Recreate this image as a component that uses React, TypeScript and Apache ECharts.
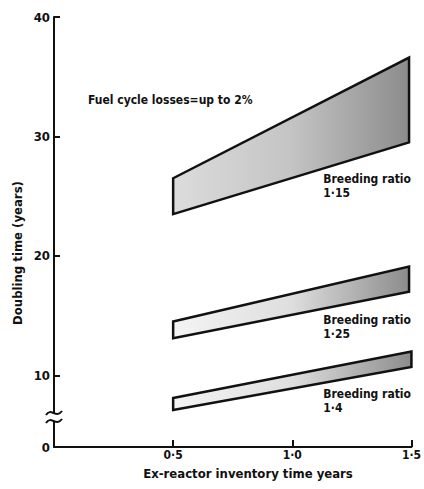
import React, { useEffect, useRef } from "react";
import * as echarts from "echarts";

// Band corners: x range and doubling-time values at start/end
const bandStartX = [0.5, 0.5, 0.5];
const bandEndX = [1.49, 1.49, 1.5];
const topStart = [26.5, 14.5, 8.1];
const bottomStart = [23.5, 13.1, 7.1];
const topEnd = [36.6, 19.1, 12.0];
const bottomEnd = [29.5, 17.0, 10.7];
const breedingRatios = ["1·15", "1·25", "1·4"];

const yTickValues = [4, 10, 20, 30, 40];
const yTickLabels = ["0", "10", "20", "30", "40"];
const xTickValues = [0.5, 1.0, 1.5];
const xTickLabels = ["0·5", "1·0", "1·5"];

const FONT = "'Liberation Sans Narrow', 'DejaVu Sans Condensed', 'Roboto', sans-serif";

export default function App() {
  const ref = useRef<HTMLDivElement>(null);
  useEffect(() => {
    if (!ref.current) return;
    const chart = echarts.init(ref.current, null, { renderer: "svg" });
    const data = bandStartX.map((x0, i) => [
      x0,
      bandEndX[i],
      topStart[i],
      bottomStart[i],
      topEnd[i],
      bottomEnd[i],
      i,
    ]);
    const labelX = 1.13;
    chart.setOption({
      animation: false,
      backgroundColor: "#ffffff",
      grid: { left: 54, right: 11, top: 17, bottom: 42, containLabel: false },
      xAxis: {
        type: "value",
        min: 0,
        max: 1.5,
        axisLine: { show: true, onZero: false, lineStyle: { color: "#111", width: 2 } },
        axisTick: { show: true, inside: true, length: 7, customValues: xTickValues, lineStyle: { color: "#111", width: 2 } },
        axisLabel: {
          show: true,
          customValues: xTickValues,
          margin: 2,
          color: "#111",
          fontFamily: FONT,
          fontWeight: "bold",
          fontSize: 12,
          formatter: (v: number) => {
            const idx = xTickValues.findIndex((t) => Math.abs(t - v) < 1e-6);
            return idx >= 0 ? xTickLabels[idx] : "";
          },
        },
        splitLine: { show: false },
      },
      yAxis: {
        type: "value",
        min: 4,
        max: 40,
        axisLine: { show: true, onZero: false, lineStyle: { color: "#111", width: 2 } },
        axisTick: { show: true, inside: true, length: 6, customValues: [10, 20, 30, 40], lineStyle: { color: "#111", width: 2 } },
        axisLabel: {
          show: true,
          customValues: yTickValues,
          margin: 4,
          color: "#111",
          fontFamily: FONT,
          fontWeight: "bold",
          fontSize: 13,
          formatter: (v: number) => {
            const idx = yTickValues.findIndex((t) => Math.abs(t - v) < 1e-6);
            return idx >= 0 ? yTickLabels[idx] : "";
          },
        },
        splitLine: { show: false },
      },
      series: [
        {
          type: "custom",
          data,
          encode: { x: [0, 1], y: [2, 3, 4, 5] },
          renderItem: (params: any, api: any) => {
            const x0 = api.value(0);
            const x1 = api.value(1);
            const t0 = api.value(2);
            const b0 = api.value(3);
            const t1 = api.value(4);
            const b1 = api.value(5);
            const idx = api.value(6);
            const p1 = api.coord([x0, t0]);
            const p2 = api.coord([x1, t1]);
            const p3 = api.coord([x1, b1]);
            const p4 = api.coord([x0, b0]);
            const by = b0 + ((b1 - b0) * (labelX - x0)) / (x1 - x0);
            const lp = api.coord([labelX, by]);
            return {
              type: "group",
              children: [
                {
                  type: "polygon",
                  shape: { points: [p1, p2, p3, p4] },
                  style: {
                    fill: new echarts.graphic.LinearGradient(0, 0, 1, 0, [
                      { offset: 0, color: idx === 0 ? "#dcdcdc" : "#f4f4f4" },
                      { offset: 0.5, color: idx === 0 ? "#c4c4c4" : "#dedede" },
                      { offset: 1, color: "#8c8c8c" },
                    ]),
                    stroke: "#111",
                    lineWidth: 2.5,
                    lineJoin: "miter",
                  },
                },
                {
                  type: "text",
                  x: lp[0],
                  y: lp[1] + 4,
                  style: {
                    text: "Breeding ratio\n" + breedingRatios[idx],
                    fill: "#111",
                    font: "bold 12px " + FONT,
                    align: "left",
                    verticalAlign: "top",
                    lineHeight: 14,
                  },
                },
              ],
            };
          },
        },
      ],
      graphic: [
        {
          type: "text",
          x: 88,
          y: 100,
          z: 100,
          style: {
            text: "Fuel cycle losses=up to 2%",
            fill: "#111",
            font: "bold 12px " + FONT,
            align: "left",
            verticalAlign: "middle",
          },
        },
        {
          type: "text",
          x: 248,
          y: 473,
          z: 100,
          style: {
            text: "Ex-reactor inventory time years",
            fill: "#111",
            font: "bold 13px " + FONT,
            align: "center",
            verticalAlign: "middle",
          },
        },
        {
          type: "text",
          x: 17,
          y: 253,
          rotation: Math.PI / 2,
          z: 100,
          style: {
            text: "Doubling time (years)",
            fill: "#111",
            font: "bold 13px " + FONT,
            align: "center",
            verticalAlign: "middle",
          },
        },
        {
          type: "rect",
          z: 100,
          shape: { x: 49, y: 414, width: 10, height: 7 },
          style: { fill: "#ffffff" },
        },
        {
          type: "bezierCurve",
          z: 101,
          shape: { x1: 46, y1: 415, cpx1: 51, cpy1: 407, cpx2: 56, cpy2: 419, x2: 62, y2: 411 },
          style: { stroke: "#111", lineWidth: 2, fill: null },
        },
        {
          type: "bezierCurve",
          z: 101,
          shape: { x1: 46, y1: 423, cpx1: 51, cpy1: 415, cpx2: 56, cpy2: 427, x2: 62, y2: 419 },
          style: { stroke: "#111", lineWidth: 2, fill: null },
        },
      ],
    });
    return () => chart.dispose();
  }, []);
  return <div ref={ref} style={{ width: 424, height: 489, position: "absolute", left: 0, top: 0 }} />;
}
